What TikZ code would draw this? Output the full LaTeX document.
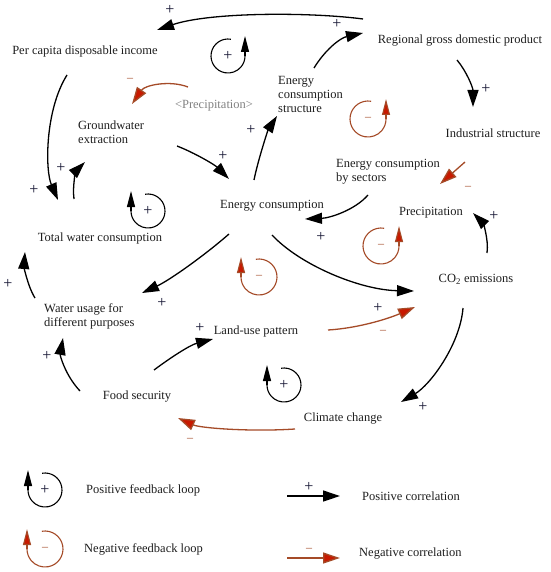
\documentclass[tikz,border=0pt]{standalone}
\usepackage{fontspec}
\setmainfont{Liberation Serif}
\usetikzlibrary{arrows.meta}
\definecolor{negline}{RGB}{165,75,40}
\definecolor{neghead}{RGB}{200,25,0}
\definecolor{txt}{RGB}{30,30,30}
\definecolor{sgn}{RGB}{20,20,50}
\definecolor{grtxt}{RGB}{130,130,130}
\begin{document}
\begin{tikzpicture}[x=1pt,y=1pt,
  lbl/.style={font=\fontsize{12.5}{14}\selectfont, text=txt, inner sep=0pt},
  posarr/.style={draw=black, line width=1.3pt, -{Triangle[length=17pt,width=11pt]}},
  negarr/.style={draw=negline, line width=1.3pt, -{Triangle[length=17pt,width=11pt,fill=neghead]}},
  psign/.style={font=\fontsize{16}{16}\selectfont, text=sgn, inner sep=0pt},
  nsign/.style={font=\fontsize{12}{12}\selectfont, text=negline, inner sep=0pt},
  ploopL/.pic={\draw[line width=1.1pt] (100:17) arc[start angle=100,end angle=-180,radius=17];
    \draw[line width=1.1pt,-{Triangle[length=16pt,width=8pt]}] (-17,0) -- (-17,20);
    \node[psign] at (0,0) {+};},
  ploopR/.pic={\draw[line width=1.1pt] (80:17) arc[start angle=80,end angle=360,radius=17];
    \draw[line width=1.1pt,-{Triangle[length=16pt,width=8pt]}] (17,0) -- (17,20);
    \node[psign] at (0,0) {+};},
  nloopL/.pic={\draw[line width=1.1pt,draw=negline] (100:18) arc[start angle=100,end angle=-180,radius=18];
    \draw[line width=1.1pt,draw=negline,-{Triangle[length=16pt,width=8pt,fill=neghead]}] (-18,0) -- (-18,20);
    \node[nsign] at (0,0) {–};},
  nloopR/.pic={\draw[line width=1.1pt,draw=negline] (80:18) arc[start angle=80,end angle=360,radius=18];
    \draw[line width=1.1pt,draw=negline,-{Triangle[length=16pt,width=8pt,fill=neghead]}] (18,0) -- (18,20);
    \node[nsign] at (0,0) {–};}
]
\useasboundingbox[fill=white] (0,0) rectangle (550,-572);

% variables
\node[lbl] (pci) at (85,-51) {Per capita disposable income};
\node[lbl] (rgdp) at (460,-41) {Regional gross domestic product};
\node[lbl,anchor=west,align=left] (ecs) at (278,-94) {Energy\\consumption\\structure};
\node[lbl,text=grtxt] (precg) at (214,-106) {<Precipitation>};
\node[lbl,anchor=west,align=left] (ge) at (78,-132) {Groundwater\\extraction};
\node[lbl] (is) at (493,-133) {Industrial structure};
\node[lbl,anchor=west,align=left] (ecbs) at (336,-172) {Energy consumption\\by sectors};
\node[lbl] (ec) at (272,-206) {Energy consumption};
\node[lbl] (prec) at (431,-213) {Precipitation};
\node[lbl] (twc) at (100,-238) {Total water consumption};
\node[lbl] (co2) at (476,-279) {CO\textsubscript{2} emissions};
\node[lbl,anchor=west,align=left] (wu) at (44,-316) {Water usage for\\different purposes};
\node[lbl] (lup) at (256,-331) {Land-use pattern};
\node[lbl] (fs) at (137,-397) {Food security};
\node[lbl] (cc) at (343,-419) {Climate change};

% connector end points
\coordinate (a1s) at (363,-19);  \coordinate (a1e) at (157,-30);
\coordinate (a2s) at (314,-68);  \coordinate (a2e) at (363,-33);
\coordinate (a3s) at (457,-60);  \coordinate (a3e) at (473,-107);
\coordinate (a4s) at (465,-162); \coordinate (a4e) at (440,-184);
\coordinate (a5s) at (368,-195); \coordinate (a5e) at (305,-219);
\coordinate (a6s) at (177,-146); \coordinate (a6e) at (229,-179);
\coordinate (a7s) at (254,-180); \coordinate (a7e) at (277,-116);
\coordinate (a8s) at (67,-75);   \coordinate (a8e) at (58,-200);
\coordinate (a9s) at (74,-199);  \coordinate (a9e) at (85,-162);
\coordinate (a11s) at (188,-87); \coordinate (a11e) at (132,-104);
\coordinate (a12s) at (229,-234); \coordinate (a12e) at (142,-293);
\coordinate (a13s) at (35,-298); \coordinate (a13e) at (25,-252);
\coordinate (a14s) at (80,-391); \coordinate (a14e) at (63,-338);
\coordinate (a15s) at (154,-370); \coordinate (a15e) at (213,-339);
\coordinate (a16s) at (272,-235); \coordinate (a16e) at (414,-291);
\coordinate (a17s) at (328,-330); \coordinate (a17e) at (415,-307);
\coordinate (a18s) at (487,-253); \coordinate (a18e) at (473,-213);
\coordinate (a19s) at (463,-308); \coordinate (a19e) at (401,-402);
\coordinate (a20s) at (295,-429); \coordinate (a20e) at (178,-418);

% connectors
\draw[posarr] (a1s) .. controls (310,-12) and (210,-12) .. (a1e);
\draw[posarr] (a2s) .. controls (325,-50) and (340,-38) .. (a2e);
\draw[posarr] (a3s) .. controls (467,-72) and (473,-88) .. (a3e);
\draw[negarr] (a4s) -- (a4e);
\draw[posarr] (a5s) .. controls (355,-210) and (330,-218) .. (a5e);
\draw[posarr] (a6s) .. controls (195,-153) and (215,-165) .. (a6e);
\draw[posarr] (a7s) .. controls (258,-160) and (268,-130) .. (a7e);
\draw[posarr] (a8s) .. controls (45,-110) and (45,-170) .. (a8e);
\draw[posarr] (a9s) .. controls (72,-185) and (77,-170) .. (a9e);
\draw[negarr] (a11s) .. controls (170,-80) and (145,-85) .. (a11e);
\draw[posarr] (a12s) .. controls (205,-255) and (170,-280) .. (a12e);
\draw[posarr] (a13s) .. controls (27,-285) and (24,-265) .. (a13e);
\draw[posarr] (a14s) .. controls (65,-375) and (60,-355) .. (a14e);
\draw[posarr] (a15s) .. controls (170,-358) and (190,-345) .. (a15e);
\draw[posarr] (a16s) .. controls (300,-265) and (360,-290) .. (a16e);
\draw[negarr] (a17s) .. controls (360,-328) and (390,-318) .. (a17e);
\draw[posarr] (a18s) .. controls (489,-238) and (482,-222) .. (a18e);
\draw[posarr] (a19s) .. controls (460,-345) and (430,-385) .. (a19e);
\draw[negarr] (a20s) .. controls (250,-432) and (200,-428) .. (a20e);

% polarity signs
\node[psign] (s1) at (170,-10) {+};
\node[psign] (s2) at (337,-24) {+};
\node[psign] (s3) at (486,-89) {+};
\node[nsign] (s4) at (468,-188) {–};
\node[psign] (s5) at (321,-237) {+};
\node[psign] (s6) at (223,-156) {+};
\node[psign] (s7) at (251,-130) {+};
\node[psign] (s8) at (34,-190) {+};
\node[psign] (s9) at (61,-168) {+};
\node[nsign] (s11) at (130,-80) {–};
\node[psign] (s12) at (162,-303) {+};
\node[psign] (s13) at (8,-284) {+};
\node[psign] (s14) at (47,-356) {+};
\node[psign] (s15) at (200,-328) {+};
\node[psign] (s16) at (378,-308) {+};
\node[nsign] (s17) at (383,-332) {–};
\node[psign] (s18) at (494,-216) {+};
\node[psign] (s19) at (423,-407) {+};
\node[nsign] (s20) at (190,-440) {–};

% loops
\pic at (228,-56) {ploopR};
\pic at (148,-211) {ploopL};
\pic at (284,-385) {ploopL};
\pic at (368,-119) {nloopR};
\pic at (381,-246) {nloopR};
\pic at (259,-277) {nloopL};

% legend
\pic at (45,-490) {ploopL};
\pic at (45,-549) {nloopL};
\node[lbl,anchor=west] (lg1) at (86,-490) {Positive feedback loop};
\node[lbl,anchor=west] (lg2) at (84,-549) {Negative feedback loop};
\node[lbl,anchor=west] (lg3) at (362,-496) {Positive correlation};
\node[lbl,anchor=west] (lg4) at (359,-554) {Negative correlation};
\coordinate (l1s) at (287,-496); \coordinate (l1e) at (340,-496);
\coordinate (l2s) at (287,-558); \coordinate (l2e) at (340,-558);
\draw[posarr] (l1s) -- (l1e);
\draw[negarr] (l2s) -- (l2e);
\node[psign] (ls1) at (309,-487) {+};
\node[nsign] (ls2) at (309,-550) {–};
\end{tikzpicture}
\end{document}
